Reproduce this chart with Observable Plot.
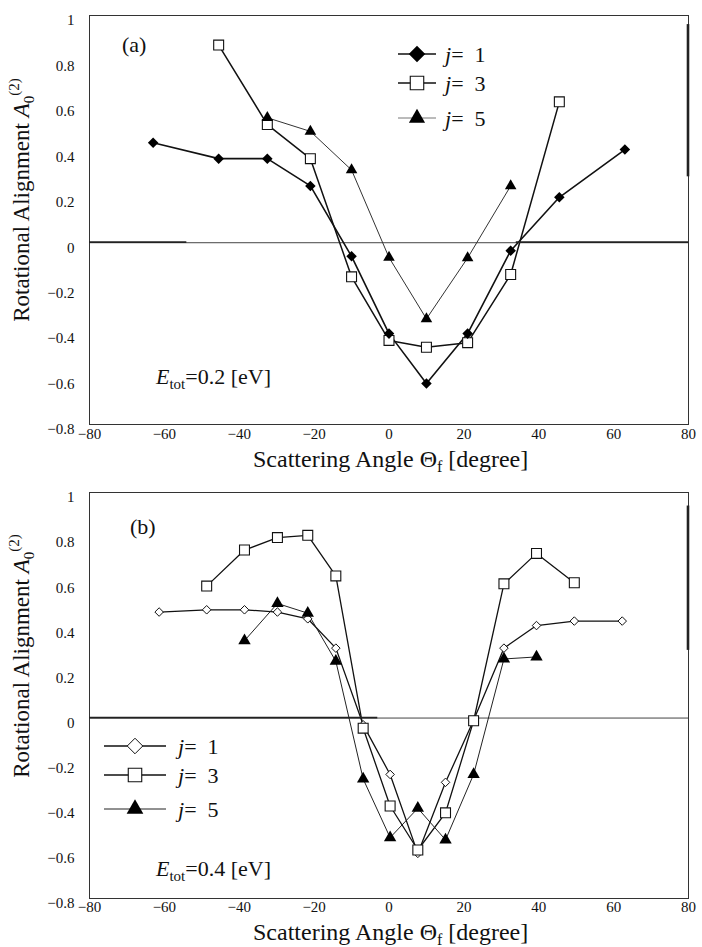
<!DOCTYPE html>
<html><head><meta charset="utf-8">
<script src="https://cdn.jsdelivr.net/npm/d3@7"></script>
<script src="https://cdn.jsdelivr.net/npm/@observablehq/plot@0.6"></script>
<style>
html,body{margin:0;padding:0;background:#fff;}
#chart{width:702px;}
#chart svg{display:block;}
</style></head><body><div id="chart"></div>
<script>
// ---------- data ----------
const xTicks = [-80, -60, -40, -20, 0, 20, 40, 60, 80];
const yTicks = [1, 0.8, 0.6, 0.4, 0.2, 0, -0.2, -0.4, -0.6, -0.8];

// Panel (a): E_tot = 0.2 eV
const anglesA_j1 = [-63, -45.5, -32.5, -21, -10, 0, 10, 21, 32.5, 45.5, 63];
const valuesA_j1 = [0.44, 0.37, 0.37, 0.25, -0.06, -0.40, -0.62, -0.40, -0.035, 0.20, 0.41];
const anglesA_j3 = [-45.5, -32.5, -21, -10, 0, 10, 21, 32.5, 45.5];
const valuesA_j3 = [0.87, 0.52, 0.37, -0.15, -0.43, -0.46, -0.44, -0.14, 0.62];
const anglesA_j5 = [-32.5, -21, -10, 0, 10, 21, 32.5];
const valuesA_j5 = [0.55, 0.49, 0.32, -0.065, -0.335, -0.067, 0.25];

// Panel (b): E_tot = 0.4 eV
const anglesB_j1 = [-61.4, -48.7, -38.6, -29.8, -21.7, -14.2, -6.9, 0.3, 7.7, 15.1, 22.6, 30.7, 39.4, 49.5, 62.3];
const valuesB_j1 = [0.47, 0.48, 0.48, 0.47, 0.44, 0.31, -0.03, -0.25, -0.60, -0.285, -0.01, 0.31, 0.41, 0.43, 0.43];
const anglesB_j3 = [-48.7, -38.6, -29.8, -21.7, -14.2, -6.9, 0.3, 7.7, 15.1, 22.6, 30.7, 39.4, 49.5];
const valuesB_j3 = [0.585, 0.745, 0.80, 0.81, 0.63, -0.045, -0.39, -0.585, -0.42, -0.012, 0.595, 0.73, 0.60];
const anglesB_j5 = [-38.6, -29.8, -21.7, -14.2, -6.9, 0.3, 7.7, 15.1, 22.6, 30.7, 39.4];
const valuesB_j5 = [0.343, 0.508, 0.465, 0.252, -0.27, -0.53, -0.40, -0.54, -0.25, 0.262, 0.271];

const legendLabels = ["1", "3", "5"];
const energies = ["0.2", "0.4"];

// ---------- helpers ----------
const FONT = "'Liberation Serif', 'DejaVu Serif', serif";
const diamondSym = {
  draw(ctx, size) {
    const r = Math.sqrt(size / 2);
    ctx.moveTo(0, -r); ctx.lineTo(r, 0); ctx.lineTo(0, r); ctx.lineTo(-r, 0); ctx.closePath();
  }
};
const table = (xs, ys) => xs.map((x, i) => ({angle: x, value: ys[i]}));
const fmtY = d => d === 0 ? "0" : (d < 0 ? "\u2212" : "") + String(Math.abs(d));
const fmtX = d => (d < 0 ? "\u2212" : "") + String(Math.abs(d));

function addText(svg, attrs) {
  const t = svg.append("text").attr("font-family", FONT).attr("fill", "#111").attr("text-anchor", "start");
  for (const k in attrs) t.attr(k, attrs[k]);
  return t;
}

function makePanel(cfg) {
  const marks = [
    Plot.axisX(xTicks, {tickSize: 0, tickPadding: cfg.xPad, tickFormat: fmtX, label: null}),
    Plot.axisY(yTicks, {tickSize: 0, tickPadding: 15, tickFormat: fmtY, label: null, dy: 5}),
    Plot.ruleY([0], {stroke: "#444", strokeWidth: 1})
  ];
  const drawOrder = cfg.drawOrder.map(i => cfg.series[i]);
  for (const s of drawOrder) {
    marks.push(Plot.line(table(s.angles, s.values), {x: "angle", y: "value", stroke: s.lineColor, strokeWidth: s.lineWidth}));
  }
  for (const s of drawOrder) {
    marks.push(Plot.dot(table(s.angles, s.values), {x: "angle", y: "value", symbol: s.symbol, r: s.r,
      fill: s.fill, stroke: s.stroke, strokeWidth: s.strokeWidth}));
  }
  marks.push(Plot.frame({stroke: "#333", strokeWidth: 1}));
  const plot = Plot.plot({
    width: 702, height: cfg.height,
    marginLeft: 89, marginRight: 14, marginTop: cfg.marginTop, marginBottom: cfg.marginBottom,
    style: {fontFamily: FONT, fontSize: "15px", background: "white", color: "#111", overflow: "visible"},
    x: {domain: [-80, 80]},
    y: {domain: [-0.8, 1]},
    marks
  });
  const svg = d3.select(plot);
  const sx = plot.scale("x"), sy = plot.scale("y");

  // darker fragments of the zero line and right edge, as in the scanned figure
  for (const [a, b] of cfg.zeroThick) {
    svg.append("line").attr("x1", sx.apply(a)).attr("x2", sx.apply(b))
      .attr("y1", sy.apply(0)).attr("y2", sy.apply(0)).attr("stroke", "#222").attr("stroke-width", 1.8);
  }
  for (const [a, b] of cfg.edgeThick) {
    svg.append("line").attr("x1", sx.apply(80)).attr("x2", sx.apply(80))
      .attr("y1", sy.apply(a)).attr("y2", sy.apply(b)).attr("stroke", "#222").attr("stroke-width", 2.6);
  }

  // y-axis title
  const yt = addText(svg, {"font-size": 23, "text-anchor": "middle",
    transform: `translate(29,${cfg.yTitleY}) rotate(-90)`});
  yt.append("tspan").text("Rotational Alignment ");
  yt.append("tspan").attr("font-style", "italic").text("A");
  yt.append("tspan").attr("font-size", 15).attr("dy", 5).text("0");
  yt.append("tspan").attr("font-size", 15).attr("dy", -15).text("(2)");

  // x-axis title
  const xt = addText(svg, {"font-size": 24, x: 253, y: cfg.xTitleY});
  xt.append("tspan").text("Scattering Angle \u0398");
  xt.append("tspan").attr("font-size", 16).attr("dy", 5).text("f");
  xt.append("tspan").attr("dy", -5).text(" [degree]");

  // panel letter
  addText(svg, {"font-size": 22, x: cfg.letterX, y: cfg.letterY}).text(cfg.letter);

  // energy label
  const et = addText(svg, {"font-size": 22, x: cfg.eX, y: cfg.eY});
  et.append("tspan").attr("font-style", "italic").text("E");
  et.append("tspan").attr("font-size", 15).attr("dy", 5).text("tot");
  et.append("tspan").attr("dy", -5).text("=" + cfg.energy + " [eV]");

  // legend (order j=1, j=3, j=5)
  const lg = cfg.legend;
  cfg.series.forEach((s, i) => {
    const y = lg.rows[i];
    svg.append("line").attr("x1", lg.x1).attr("x2", lg.x2).attr("y1", y).attr("y2", y)
      .attr("stroke", s.legendLine || s.lineColor).attr("stroke-width", s.lineWidth);
    const size = Math.PI * s.legendR * s.legendR;
    const p = d3.path();
    if (s.symbol === "square") d3.symbolSquare.draw(p, size);
    else if (s.symbol === "triangle") d3.symbolTriangle.draw(p, size);
    else diamondSym.draw(p, size);
    svg.append("path").attr("d", p.toString()).attr("transform", `translate(${lg.mx},${y})`)
      .attr("fill", s.fill).attr("stroke", s.stroke === "none" ? null : s.stroke)
      .attr("stroke-width", s.strokeWidth);
    const t = addText(svg, {"font-size": 22, x: lg.tx, y: y + 8});
    t.append("tspan").attr("font-style", "italic").text("j");
    t.append("tspan").text("=\u2002" + legendLabels[i]);
  });
  return plot;
}

function buildA() {
  const s1 = {angles: anglesA_j1, values: valuesA_j1, symbol: diamondSym, r: 4.2, legendR: 6.6, fill: "#000", stroke: "none", strokeWidth: 0, lineColor: "#111", lineWidth: 1.6};
  const s3 = {angles: anglesA_j3, values: valuesA_j3, symbol: "square", r: 5.6, legendR: 7.6, fill: "white", stroke: "#111", strokeWidth: 1.1, lineColor: "#111", lineWidth: 1.5};
  const s5 = {angles: anglesA_j5, values: valuesA_j5, symbol: "triangle", r: 4.3, legendR: 6, fill: "#000", stroke: "none", strokeWidth: 0, lineColor: "#333", lineWidth: 1, legendLine: "#777"};
  return makePanel({
    height: 480, marginTop: 15, marginBottom: 56, xPad: 4,
    series: [s1, s3, s5], drawOrder: [1, 2, 0],
    zeroThick: [[-80, -54], [34, 80]],
    edgeThick: [[0.96, 0.29]],
    yTitleY: 200, xTitleY: 467,
    letter: "(a)", letterX: 122, letterY: 52,
    energy: energies[0], eX: 156, eY: 384,
    legend: {rows: [54, 83, 118], x1: 398, x2: 436, mx: 417, tx: 445}
  });
}
function buildB() {
  const s1 = {angles: anglesB_j1, values: valuesB_j1, symbol: diamondSym, r: 3.4, legendR: 6.2, fill: "white", stroke: "#111", strokeWidth: 1, lineColor: "#111", lineWidth: 1.3};
  const s3 = {angles: anglesB_j3, values: valuesB_j3, symbol: "square", r: 5.6, legendR: 7.6, fill: "white", stroke: "#111", strokeWidth: 1.1, lineColor: "#111", lineWidth: 1.3};
  const s5 = {angles: anglesB_j5, values: valuesB_j5, symbol: "triangle", r: 4.6, legendR: 6.2, fill: "#000", stroke: "none", strokeWidth: 0, lineColor: "#222", lineWidth: 1};
  return makePanel({
    height: 467, marginTop: 12, marginBottom: 49, xPad: 3,
    series: [s1, s3, s5], drawOrder: [0, 1, 2],
    zeroThick: [[-80, -3]],
    edgeThick: [[0.94, 0.3]],
    yTitleY: 176, xTitleY: 460,
    letter: "(b)", letterX: 130, letterY: 54,
    energy: energies[1], eX: 156, eY: 396,
    legend: {rows: [266, 295, 329], x1: 104, x2: 166, mx: 135, tx: 178}
  });
}
const chart = document.getElementById("chart");
chart.appendChild(buildA());
chart.appendChild(buildB());
</script>
</body></html>
